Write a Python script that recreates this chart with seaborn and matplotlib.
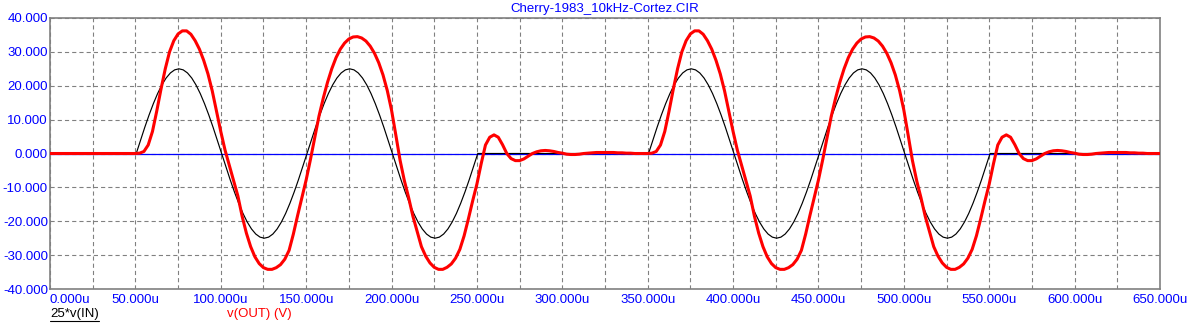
import numpy as np
import pandas as pd
import matplotlib
matplotlib.use("Agg")
import matplotlib.pyplot as plt
import seaborn as sns
from matplotlib.lines import Line2D

# ---------------- data ----------------
title = "Cherry-1983_10kHz-Cortez.CIR"
x_ticks_us = [0, 50, 100, 150, 200, 250, 300, 350, 400, 450, 500, 550, 600, 650]
y_ticks = [-40, -30, -20, -10, 0, 10, 20, 30, 40]

# 25*v(IN): one 10 kHz cycle sampled every 2.5 us
in_cycle = [0.0, 3.91, 7.73, 11.35, 14.69, 17.68, 20.23, 22.28, 23.78, 24.69,
            25.0, 24.69, 23.78, 22.28, 20.23, 17.68, 14.69, 11.35, 7.73, 3.91,
            0.0, -3.91, -7.73, -11.35, -14.69, -17.68, -20.23, -22.28, -23.78, -24.69,
            -25.0, -24.69, -23.78, -22.28, -20.23, -17.68, -14.69, -11.35, -7.73, -3.91]
in_burst_starts_us = [50.5, 350.5]

# v(OUT): response to one burst, sampled every 2.5 us from the burst start
out_burst = [0.0, 0.1, 0.6, 2.5, 6.5, 12.5, 19.0, 25.0, 30.0, 33.3,
             35.3, 36.2, 36.2, 35.2, 33.3, 30.8, 27.5, 23.5, 18.5, 12.5,
             6.5, 1.0, -3.5, -8.0, -12.5, -18.5, -23.5, -27.5, -30.5, -32.5,
             -33.7, -34.2, -34.2, -33.7, -32.8, -31.2, -28.6, -23.8, -18.3, -13.0,
             -7.8, -1.8, 4.6, 11.0, 16.3, 21.0, 25.0, 28.3, 30.8, 32.6,
             33.8, 34.4, 34.5, 34.1, 33.2, 31.7, 29.6, 26.8, 23.2, 18.6,
             12.8, 5.5, -2.0, -8.0, -13.0, -18.5, -23.0, -27.5, -30.3, -32.3,
             -33.6, -34.2, -34.2, -33.6, -32.6, -30.9, -28.3, -24.3, -19.3, -14.0,
             -9.0, -3.0, 2.5, 4.8, 5.5, 4.8, 2.6, 0.0, -1.5, -2.1,
             -2.1, -1.6, -0.8, 0.0, 0.5, 0.8, 0.9, 0.8, 0.6, 0.3,
             0.1, -0.2, -0.3, -0.3, -0.2, 0.0, 0.1, 0.2, 0.3, 0.3,
             0.3, 0.3, 0.3, 0.2, 0.2, 0.1, 0.1, 0.0, 0.0, 0.0]
out_burst_starts_us = [50.0, 350.0]
t_end_us = 650.0
step_us = 2.5

# ---------------- assemble series ----------------
t_in, v_in = [0.0], [0.0]
for s in in_burst_starts_us:
    vals = in_cycle + in_cycle + [0.0]
    t_in += list(s + np.arange(len(vals)) * step_us)
    v_in += vals
t_in.append(t_end_us); v_in.append(0.0)

t_out, v_out = [0.0], [0.0]
for s in out_burst_starts_us:
    t_out += list(s + np.arange(len(out_burst)) * step_us)
    v_out += out_burst
t_out.append(t_end_us); v_out.append(0.0)

df_in = pd.DataFrame({"t": t_in, "v": v_in})
df_out = pd.DataFrame({"t": t_out, "v": v_out})

# ---------------- style ----------------
sns.set_style("white")
plt.rcParams["font.family"] = ["Liberation Sans", "DejaVu Sans"]
plt.rcParams["lines.scale_dashes"] = False

W, H = 1193, 326
fig = plt.figure(figsize=(W / 100, H / 100), dpi=100)
L, R, T, B = 50, 1160, 18, 289
ax = fig.add_axes([L / W, (H - B) / H, (R - L) / W, (B - T) / H])

blue = "#0000FF"
gray = "#808080"

ax.axhline(0, color=blue, lw=0.9, zorder=2)
sns.lineplot(data=df_in, x="t", y="v", ax=ax, color="black", lw=0.85,
             sort=False, estimator=None, zorder=3)
sns.lineplot(data=df_out, x="t", y="v", ax=ax, color="#FF0000", lw=2.2,
             sort=False, estimator=None, zorder=4)

ax.set_xlim(0, 650)
ax.set_ylim(-40, 40)
ax.set_xlabel("")
ax.set_ylabel("")

xt = np.arange(0, 650.1, 25)
ax.set_xticks(xt)
ax.set_xticklabels([f"{v:.3f}u" if v in x_ticks_us else "" for v in xt])
ax.set_yticks(y_ticks)
ax.set_yticklabels([f"{v:.3f}" for v in y_ticks])
ax.tick_params(axis="both", length=0, labelsize=9.5, labelcolor=blue)
ax.tick_params(axis="x", pad=3.5)
ax.tick_params(axis="y", pad=1.5)
ax.get_xticklabels()[0].set_horizontalalignment("left")

ax.grid(True, color=gray, lw=0.8, linestyle=(0, (3.0, 2.2)))
for sp in ax.spines.values():
    sp.set_visible(True)
    sp.set_color(gray)
    sp.set_linewidth(1.2)

fig.text((L + R) / 2 / W, 1 - 9 / H, title, ha="center", va="center",
         color=blue, fontsize=9.5)

t1 = fig.text(50 / W, 1 - 314 / H, "25*v(IN)", ha="left", va="center",
              color="black", fontsize=9.5)
fig.text(227 / W, 1 - 314 / H, "v(OUT) (V)", ha="left", va="center",
         color="#FF0000", fontsize=9.5)

fig.canvas.draw()
bb = t1.get_window_extent()
uy = (bb.y0 - 1) / H
fig.add_artist(Line2D([bb.x0 / W, bb.x1 / W], [uy, uy], color="black",
                      lw=0.8, transform=fig.transFigure))

fig.savefig("out.png", dpi=100)
